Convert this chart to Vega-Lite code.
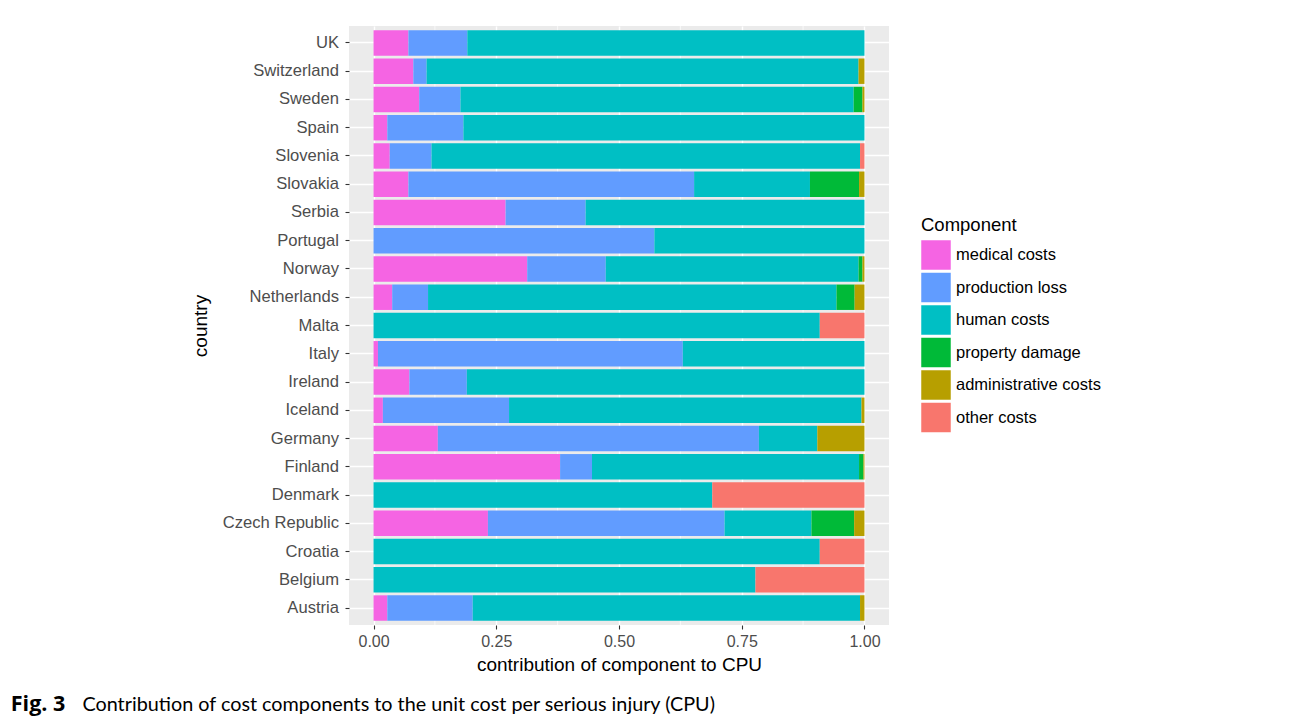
{
  "$schema": "https://vega.github.io/schema/vega-lite/v6.json",
  "width": 540,
  "height": 599,
  "autosize": {"type": "pad"},
  "padding": {"left": 10, "top": 25, "right": 0, "bottom": 0},
  "background": "white",
  "title": {
    "text": "Fig. 3",
    "subtitle": "\u200b\u2003\u2003\u2003\u2003\u2002\u2009Contribution of cost components to the unit cost per serious injury (CPU)",
    "orient": "bottom",
    "anchor": "start",
    "frame": "bounds",
    "dx": -181,
    "offset": 20,
    "font": "Open Sans",
    "fontSize": 21.5,
    "fontWeight": "bold",
    "color": "black",
    "subtitleFont": "Lato",
    "subtitleFontSize": 19.8,
    "subtitleFontWeight": "normal",
    "subtitleColor": "black",
    "subtitlePadding": -21
  },
  "layer": [
    {
      "data": {"values": [{"g": 0.125}, {"g": 0.375}, {"g": 0.625}, {"g": 0.875}]},
      "mark": {"type": "rule", "color": "white", "strokeWidth": 0.7},
      "encoding": {
        "x": {
          "field": "g",
          "type": "quantitative",
          "title": "contribution of component to CPU",
          "scale": {"domain": [-0.05, 1.05], "nice": false, "zero": false},
          "axis": {"values": [0, 0.25, 0.5, 0.75, 1], "format": ".2f", "labelFlush": false}
        }
      }
    },
    {
      "data": {
        "values": [
          {"country": "UK", "medical costs": 0.071, "production loss": 0.12, "human costs": 0.809},
          {"country": "Switzerland", "medical costs": 0.081, "production loss": 0.027, "human costs": 0.88, "administrative costs": 0.012},
          {"country": "Sweden", "medical costs": 0.093, "production loss": 0.084, "human costs": 0.801, "property damage": 0.018, "administrative costs": 0.004},
          {"country": "Spain", "medical costs": 0.028, "production loss": 0.155, "human costs": 0.817},
          {"country": "Slovenia", "medical costs": 0.033, "production loss": 0.085, "human costs": 0.873, "other costs": 0.009},
          {"country": "Slovakia", "medical costs": 0.071, "production loss": 0.582, "human costs": 0.236, "property damage": 0.1, "administrative costs": 0.011},
          {"country": "Serbia", "medical costs": 0.269, "production loss": 0.163, "human costs": 0.568},
          {"country": "Portugal", "production loss": 0.572, "human costs": 0.428},
          {"country": "Norway", "medical costs": 0.313, "production loss": 0.16, "human costs": 0.515, "property damage": 0.008, "administrative costs": 0.004},
          {"country": "Netherlands", "medical costs": 0.038, "production loss": 0.073, "human costs": 0.832, "property damage": 0.037, "administrative costs": 0.02},
          {"country": "Malta", "human costs": 0.909, "other costs": 0.091},
          {"country": "Italy", "medical costs": 0.009, "production loss": 0.621, "human costs": 0.37},
          {"country": "Ireland", "medical costs": 0.073, "production loss": 0.117, "human costs": 0.81},
          {"country": "Iceland", "medical costs": 0.019, "production loss": 0.257, "human costs": 0.718, "administrative costs": 0.006},
          {"country": "Germany", "medical costs": 0.131, "production loss": 0.654, "human costs": 0.119, "administrative costs": 0.096},
          {"country": "Finland", "medical costs": 0.38, "production loss": 0.065, "human costs": 0.544, "property damage": 0.009, "administrative costs": 0.002},
          {"country": "Denmark", "human costs": 0.69, "other costs": 0.31},
          {"country": "Czech Republic", "medical costs": 0.233, "production loss": 0.482, "human costs": 0.177, "property damage": 0.087, "administrative costs": 0.021},
          {"country": "Croatia", "human costs": 0.909, "other costs": 0.091},
          {"country": "Belgium", "human costs": 0.778, "other costs": 0.222},
          {"country": "Austria", "medical costs": 0.028, "production loss": 0.174, "human costs": 0.789, "administrative costs": 0.009}
        ]
      },
      "transform": [
        {"fold": ["medical costs", "production loss", "human costs", "property damage", "administrative costs", "other costs"], "as": ["component", "value"]},
        {"filter": "isValid(datum.value) && datum.value > 0"},
        {"calculate": "indexof(['medical costs','production loss','human costs','property damage','administrative costs','other costs'], datum.component)", "as": "ord"}
      ],
      "mark": {"type": "bar"},
      "encoding": {
        "x": {
          "field": "value",
          "type": "quantitative",
          "stack": "zero",
          "title": "contribution of component to CPU",
          "scale": {"domain": [-0.05, 1.05], "nice": false, "zero": false},
          "axis": {"values": [0, 0.25, 0.5, 0.75, 1], "format": ".2f", "labelFlush": false}
        },
        "y": {
          "field": "country",
          "type": "nominal",
          "sort": "descending",
          "title": "country",
          "scale": {"paddingInner": 0.1, "paddingOuter": 0.15},
          "axis": {"bandPosition": 0.5, "tickExtra": false, "grid": true}
        },
        "color": {
          "field": "component",
          "type": "nominal",
          "scale": {
            "domain": ["medical costs", "production loss", "human costs", "property damage", "administrative costs", "other costs"],
            "range": ["#F564E3", "#619CFF", "#00BFC4", "#00BA38", "#B79F00", "#F8766D"]
          },
          "legend": {
            "title": "Component",
            "orient": "none",
            "legendX": 572,
            "legendY": 189.5,
            "symbolType": "square",
            "symbolSize": 870,
            "symbolStrokeWidth": 0,
            "symbolOpacity": 1,
            "labelFont": "Liberation Sans",
            "labelFontSize": 16.5,
            "labelColor": "black",
            "labelOffset": 5,
            "titleFont": "Liberation Sans",
            "titleFontSize": 18.5,
            "titleFontWeight": "normal",
            "titleColor": "black",
            "titlePadding": 6,
            "rowPadding": 2.5
          }
        },
        "order": {"field": "ord", "type": "quantitative"}
      }
    }
  ],
  "config": {
    "view": {"fill": "#EBEBEB", "stroke": null},
    "font": "Liberation Sans",
    "axis": {
      "domain": false,
      "tickColor": "#333333",
      "tickWidth": 1.1,
      "tickSize": 4,
      "labelColor": "#4D4D4D",
      "labelFont": "Liberation Sans",
      "labelFontSize": 16,
      "titleFont": "Liberation Sans",
      "titleFontSize": 19,
      "titleFontWeight": "normal",
      "titleColor": "black",
      "grid": true,
      "gridColor": "white",
      "gridWidth": 1.4,
      "gridOpacity": 1
    },
    "axisX": {"labelPadding": 4, "titlePadding": 6},
    "axisY": {"labelPadding": 6.5, "titlePadding": 11.5, "labelFontSize": 16.6}
  }
}
